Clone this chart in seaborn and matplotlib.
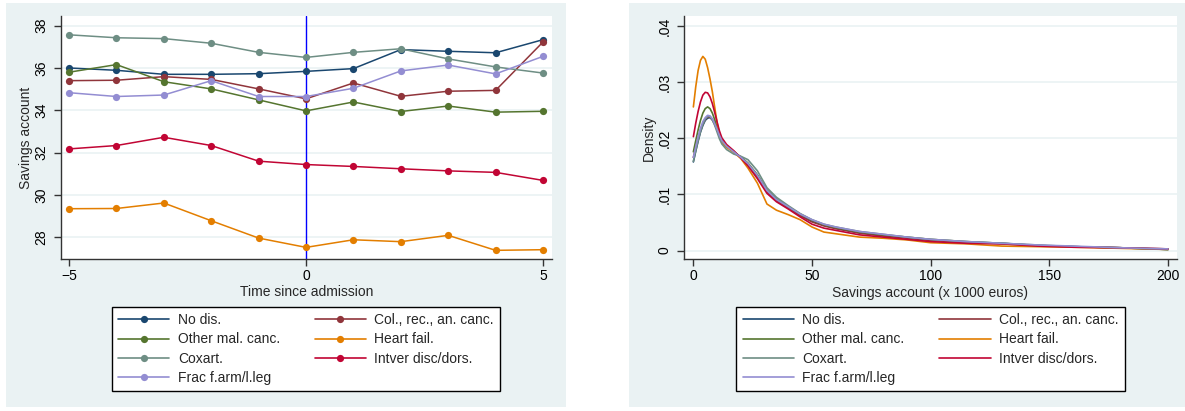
import numpy as np
import pandas as pd
import matplotlib
matplotlib.use("Agg")
import matplotlib.pyplot as plt
from matplotlib.patches import Rectangle
from matplotlib.lines import Line2D
import seaborn as sns

# ---- data -------------------------------------------------------------
groups = ["No dis.", "Col., rec., an. canc.", "Other mal. canc.", "Heart fail.",
          "Coxart.", "Intver disc/dors.", "Frac f.arm/l.leg"]
colors = ["#1a476f", "#90353b", "#55752f", "#e37e00",
          "#6e8e84", "#c10534", "#938dd2"]

time = [-5, -4, -3, -2, -1, 0, 1, 2, 3, 4, 5]
sav_no_dis = [36.00, 35.89, 35.70, 35.70, 35.73, 35.84, 35.97, 36.87, 36.79, 36.72, 37.34]
sav_col_rec = [35.40, 35.42, 35.59, 35.46, 35.01, 34.54, 35.29, 34.66, 34.90, 34.94, 37.23]
sav_other_mal = [35.80, 36.16, 35.35, 35.01, 34.49, 33.97, 34.39, 33.94, 34.20, 33.91, 33.95]
sav_heart = [29.34, 29.35, 29.61, 28.77, 27.95, 27.51, 27.87, 27.78, 28.08, 27.37, 27.40]
sav_coxart = [37.57, 37.43, 37.39, 37.17, 36.74, 36.50, 36.74, 36.91, 36.43, 36.05, 35.76]
sav_intver = [32.17, 32.33, 32.72, 32.33, 31.59, 31.43, 31.34, 31.23, 31.13, 31.06, 30.68]
sav_frac = [34.83, 34.65, 34.72, 35.40, 34.65, 34.65, 35.04, 35.86, 36.14, 35.72, 36.55]

dens_x = [0, 1, 2, 3, 4, 5, 6, 7, 8, 9, 10, 11, 12, 14, 17, 20, 23, 27, 31, 35,
          40, 45, 50, 55, 60, 70, 80, 90, 100, 115, 130, 145, 160, 180, 200]
dens_no_dis = [.0158, .0177, .0195, .0211, .0223, .0232, .0236, .0237, .0233, .0226,
               .0216, .0206, .0197, .0186, .0176, .0166, .0154, .0133, .0106, .0090,
               .0077, .0064, .0053, .0045, .0040, .0032, .0027, .0023, .0019, .0015,
               .0013, .0009, .0007, .0005, .0002]
dens_col_rec = [.0166, .0184, .0201, .0215, .0226, .0234, .0238, .0238, .0233, .0225,
                .0215, .0205, .0196, .0186, .0177, .0166, .0153, .0132, .0105, .0089,
                .0076, .0062, .0051, .0044, .0039, .0031, .0026, .0022, .0018, .0015,
                .0012, .0009, .0007, .0005, .0003]
dens_other_mal = [.0176, .0196, .0215, .0232, .0245, .0253, .0256, .0253, .0245, .0233,
                  .0220, .0207, .0197, .0186, .0176, .0167, .0156, .0135, .0108, .0092,
                  .0078, .0065, .0054, .0046, .0041, .0033, .0028, .0024, .0020, .0016,
                  .0013, .0009, .0007, .0005, .0002]
dens_heart = [.0256, .0292, .0321, .0339, .0346, .0341, .0326, .0306, .0283, .0255,
              .0228, .0206, .0193, .0184, .0175, .0164, .0147, .0120, .0083, .0072,
              .0064, .0055, .0042, .0033, .0030, .0024, .0022, .0019, .0014, .0012,
              .0008, .0007, .0006, .0004, .0002]
dens_coxart = [.0159, .0178, .0196, .0212, .0225, .0234, .0239, .0239, .0233, .0223,
               .0211, .0199, .0190, .0180, .0172, .0168, .0162, .0142, .0112, .0095,
               .0080, .0066, .0055, .0047, .0042, .0034, .0029, .0024, .0020, .0016,
               .0013, .0010, .0007, .0005, .0002]
dens_intver = [.0203, .0227, .0248, .0265, .0277, .0282, .0281, .0274, .0262, .0246,
               .0229, .0213, .0201, .0189, .0178, .0165, .0151, .0128, .0102, .0087,
               .0074, .0060, .0047, .0040, .0036, .0028, .0024, .0020, .0016, .0013,
               .0012, .0008, .0006, .0005, .0003]
dens_frac = [.0166, .0185, .0203, .0218, .0230, .0237, .0241, .0240, .0235, .0226,
             .0216, .0205, .0196, .0186, .0176, .0166, .0155, .0134, .0107, .0091,
             .0078, .0065, .0055, .0047, .0042, .0034, .0029, .0024, .0020, .0016,
             .0013, .0010, .0008, .0005, .0003]

left_ticks_y = [28, 30, 32, 34, 36, 38]
left_ticks_x = [-5, 0, 5]
right_ticks_y = [0, 0.01, 0.02, 0.03, 0.04]
right_ticklabels_y = ["0", ".01", ".02", ".03", ".04"]
right_ticks_x = [0, 50, 100, 150, 200]

sav_series = [sav_no_dis, sav_col_rec, sav_other_mal, sav_heart,
              sav_coxart, sav_intver, sav_frac]
dens_series = [dens_no_dis, dens_col_rec, dens_other_mal, dens_heart,
               dens_coxart, dens_intver, dens_frac]

df_sav = pd.DataFrame([(g, t, v) for g, s in zip(groups, sav_series)
                       for t, v in zip(time, s)],
                      columns=["group", "time", "savings"])
df_dens = pd.DataFrame([(g, x, d) for g, s in zip(groups, dens_series)
                        for x, d in zip(dens_x, s)],
                       columns=["group", "amount", "density"])

# ---- style ------------------------------------------------------------
sns.set_theme(style="white")
plt.rcParams["font.family"] = ["Liberation Sans", "DejaVu Sans"]
BG = "#eaf2f3"
AXCOL = "#333333"
palette = dict(zip(groups, colors))

W, H = 1185, 411
fig = plt.figure(figsize=(W / 100, H / 100), dpi=100)
fig.patch.set_facecolor("white")


def px_rect(x0, y0, x1, y1):
    return [x0 / W, 1 - y1 / H, (x1 - x0) / W, (y1 - y0) / H]


for r in (px_rect(6, 3, 566, 407), px_rect(629, 3, 1185, 407)):
    fig.add_artist(Rectangle((r[0], r[1]), r[2], r[3], transform=fig.transFigure,
                             facecolor=BG, edgecolor="none", zorder=-5))

ax1 = fig.add_axes(px_rect(61, 16, 552, 259))
ax2 = fig.add_axes(px_rect(684, 16, 1177, 259))


def style_axes(ax):
    ax.set_facecolor("white")
    for side in ("top", "right"):
        ax.spines[side].set_visible(False)
    for side in ("left", "bottom"):
        ax.spines[side].set_color(AXCOL)
        ax.spines[side].set_linewidth(1)
    ax.tick_params(axis="both", direction="out", length=5, width=1,
                   color=AXCOL, labelsize=10, pad=2, labelcolor="black",
                   left=True, bottom=True)
    ax.tick_params(axis="y", pad=4)
    ax.yaxis.grid(True, color=BG, linewidth=1.2)
    ax.xaxis.grid(False)
    ax.set_axisbelow(True)


# ---- left: savings over time ------------------------------------------
style_axes(ax1)
ax1.axvline(0, color="#0000ff", linewidth=1, zorder=1.5)
sns.lineplot(data=df_sav, x="time", y="savings", hue="group", hue_order=groups,
             palette=palette, marker="o", markersize=5.2, markeredgewidth=0,
             linewidth=1.1, errorbar=None, legend=False, ax=ax1)
ax1.set_xlim(-5.17, 5.19)
ax1.set_ylim(26.96, 38.46)
ax1.set_xticks(left_ticks_x)
ax1.set_yticks(left_ticks_y)
ax1.set_xlabel("Time since admission", fontsize=10, labelpad=2)
ax1.set_ylabel("Savings account", fontsize=10, labelpad=1)
plt.setp(ax1.get_yticklabels(), rotation=90, va="center")

# ---- right: densities ---------------------------------------------------
style_axes(ax2)
sns.lineplot(data=df_dens, x="amount", y="density", hue="group", hue_order=groups,
             palette=palette, linewidth=1.2, errorbar=None, legend=False, ax=ax2)
ax2.set_xlim(-3.95, 203.8)
ax2.set_ylim(-0.0015, 0.0418)
ax2.set_xticks(right_ticks_x)
ax2.set_yticks(right_ticks_y)
ax2.set_yticklabels(right_ticklabels_y)
ax2.set_xlabel("Savings account (x 1000 euros)", fontsize=10, labelpad=2)
ax2.set_ylabel("Density", fontsize=10, labelpad=1)
plt.setp(ax2.get_yticklabels(), rotation=90, va="center")

# ---- legends (row-major order in two columns) ---------------------------
order = [0, 2, 4, 6, 1, 3, 5]


def make_legend(center_px, with_markers):
    handles = []
    for i in order:
        if with_markers:
            h = Line2D([], [], color=colors[i], linewidth=1.2, marker="o",
                       markersize=5.2, markeredgewidth=0)
        else:
            h = Line2D([], [], color=colors[i], linewidth=1.2)
        handles.append(h)
    labels = [groups[i] for i in order]
    leg = fig.legend(handles, labels, ncol=2, loc="center",
                     bbox_to_anchor=(center_px[0] / W, 1 - center_px[1] / H),
                     frameon=True, fancybox=False, fontsize=10,
                     handlelength=3.7, handletextpad=0.6, columnspacing=2.5,
                     labelspacing=0.38, borderpad=0.45, numpoints=1,
                     edgecolor="black", facecolor="white", framealpha=1)
    leg.get_frame().set_linewidth(1)
    return leg


make_legend(((111 + 501) / 2, (306 + 392) / 2), True)
make_legend(((735 + 1126) / 2, (306 + 392) / 2), False)

fig.savefig("out.png", dpi=100, facecolor="white")
